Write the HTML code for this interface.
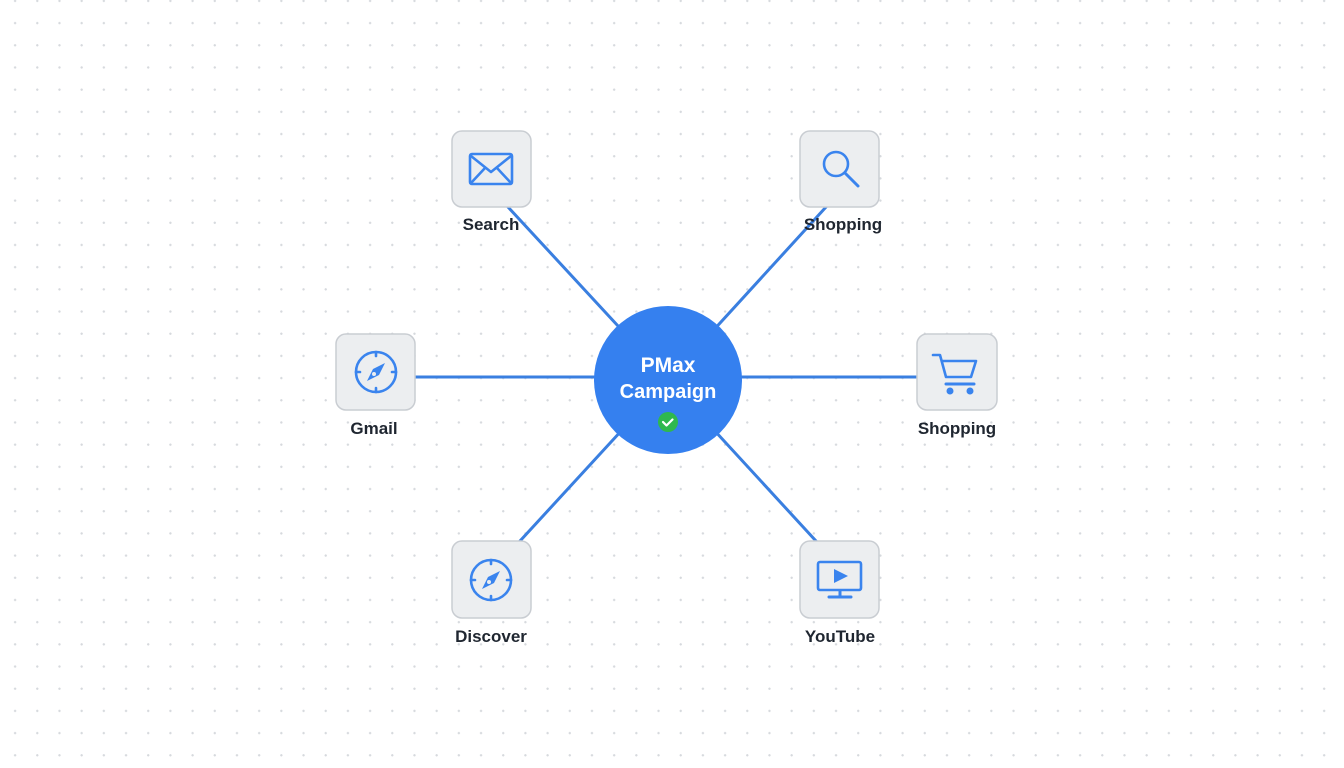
<!DOCTYPE html>
<html><head><meta charset="utf-8"><style>
html,body{margin:0;padding:0}
body{width:1344px;height:768px;overflow:hidden;background:#fff;
background-image:radial-gradient(circle,#d6d9dd 1px,transparent 1.3px);
background-size:22.2px 22.2px;background-position:4px 12px;
font-family:"Liberation Sans",sans-serif}
</style></head><body>
<svg width="1344" height="768" viewBox="0 0 1344 768" style="position:absolute;left:0;top:0">
<g stroke="#3a7fe0" stroke-width="3" stroke-linecap="round">
<line x1="508" y1="207" x2="668" y2="380"/>
<line x1="826" y1="207" x2="668" y2="380"/>
<line x1="415" y1="377" x2="668" y2="377"/>
<line x1="917" y1="377" x2="668" y2="377"/>
<line x1="520" y1="541" x2="668" y2="380"/>
<line x1="816" y1="541" x2="668" y2="380"/>
</g>
<circle cx="668" cy="380" r="74" fill="#3580ef"/>
<text x="668" y="372" fill="#fff" font-size="21" font-weight="bold" text-anchor="middle" font-family="Liberation Sans">PMax</text>
<text x="668" y="398" fill="#fff" font-size="20" font-weight="bold" text-anchor="middle" font-family="Liberation Sans">Campaign</text>
<circle cx="668" cy="422" r="10" fill="#2fb84e"/>
<path d="M663 422 l3.5 3.5 l6-6" stroke="#fff" stroke-width="2.2" fill="none" stroke-linecap="round" stroke-linejoin="round"/>
<g fill="#eceef0" stroke="#c9cdd2" stroke-width="1.5">
<rect x="452" y="131" width="79" height="76" rx="10"/>
<rect x="800" y="131" width="79" height="76" rx="10"/>
<rect x="336" y="334" width="79" height="76" rx="10"/>
<rect x="917" y="334" width="80" height="76" rx="10"/>
<rect x="452" y="541" width="79" height="77" rx="10"/>
<rect x="800" y="541" width="79" height="77" rx="10"/>
</g>
<g stroke="#3a84ee" stroke-width="2.6" fill="none" stroke-linecap="round" stroke-linejoin="round">
<rect x="470" y="154" width="42" height="30" rx="2"/>
<path d="M471 156 L491 172 L511 156 M471 183 L485 168 M511 183 L497 168"/>
<circle cx="836" cy="164" r="12"/>
<path d="M845 173 L858 186" stroke-width="3"/>
<circle cx="376" cy="372" r="20"/>
<path d="M376 352v4M376 388v4M356 372h4M392 372h4"/>
<circle cx="491" cy="580" r="20"/>
<path d="M491 560v4M491 596v4M471 580h4M507 580h4"/>
<path d="M933 355h7l6 22h25l5-16h-33"/>
<path d="M946 384h28" stroke-width="3"/>
<rect x="818" y="562" width="43" height="28" rx="2"/>
<path d="M840 591v5M829 597h22" stroke-width="3"/>
</g>
<g fill="#3a84ee">
<path d="M385 363 L379 375 L367 381 L373 369 Z"/>
<path d="M500 571 L494 583 L482 589 L488 577 Z"/>
<circle cx="374" cy="374" r="2" fill="#eceef0"/>
<circle cx="489" cy="582" r="2" fill="#eceef0"/>
<circle cx="950" cy="391" r="3.5"/><circle cx="970" cy="391" r="3.5"/>
<path d="M834 569 L848 576 L834 583 Z"/>
</g>
<g font-family="Liberation Sans" font-size="17" font-weight="bold" fill="#1f2630" text-anchor="middle">
<text x="491" y="230">Search</text>
<text x="843" y="230">Shopping</text>
<text x="374" y="434">Gmail</text>
<text x="957" y="434">Shopping</text>
<text x="491" y="642">Discover</text>
<text x="840" y="642">YouTube</text>
</g>
</svg>
</body></html>
